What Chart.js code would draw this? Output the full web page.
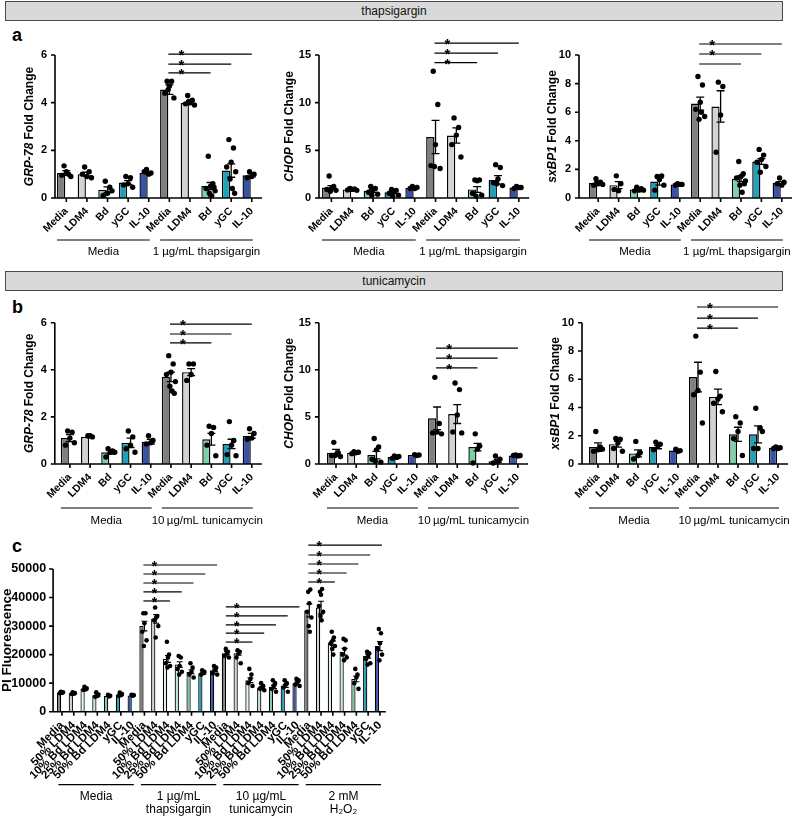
<!DOCTYPE html>
<html><head><meta charset="utf-8">
<script src="https://cdn.jsdelivr.net/npm/chart.js@4.4.1/dist/chart.umd.min.js"></script>
<style>
html,body{margin:0;padding:0;background:#fff}
body{width:800px;height:817px;position:relative;overflow:hidden;font-family:"Liberation Sans",Arial,sans-serif}
.hdr{position:absolute;left:5px;width:776px;height:18px;background:#d9d9d9;border:1px solid #4a4a4a;text-align:center;font-size:12px;line-height:18px;color:#111}
.lt{position:absolute;left:12px;font-weight:bold;font-size:18px;line-height:18px;color:#000}
canvas{position:absolute}
</style></head><body>
<div class="hdr" style="top:1px">thapsigargin</div>
<div class="hdr" style="top:271px">tunicamycin</div>
<div class="lt" style="top:26px">a</div>
<div class="lt" style="top:298px">b</div>
<div class="lt" style="top:537px">c</div>
<script>
// ---------------- DATA ----------------
const abLabels = ["Media","LDM4","Bd","yGC","IL-10","Media","LDM4","Bd","yGC","IL-10"];

// a: thapsigargin
const grp78ThapsMean = [1.05,1.0,0.35,0.65,1.05,4.55,4.0,0.5,1.15,0.95];
const grp78ThapsSem  = [0.1,0.08,0.12,0.08,0.05,0.2,0.08,0.15,0.28,0.06];
const grp78ThapsPts  = [[1.35,1.0,1.1,0.95,0.9],[1.3,1.1,0.9,1.0,0.85],[0.7,0.45,0.2,0.1,0.3],[0.9,0.85,0.6,0.55,0.45],[1.2,1.05,1.0,1.1],
  [4.9,4.9,4.7,4.4,4.2,4.55],[4.3,4.1,4.0,3.95,3.9,4.05],[1.75,0.6,0.5,0.4,0.3,0.2,0.1,0.45],[2.45,2.1,1.5,1.3,1.1,0.8,0.4,0.2],[1.1,1.0,0.9,0.85]];

const chopThapsMean = [1.1,0.9,0.75,0.6,1.05,6.4,6.55,0.9,1.9,1.1];
const chopThapsSem  = [0.2,0.05,0.15,0.15,0.04,1.75,0.8,0.3,0.45,0.05];
const chopThapsPts  = [[2.3,1.2,1.0,0.9,0.8,0.7],[1.0,0.95,0.9,0.85,0.8],[1.2,1.0,0.9,0.6,0.4,0.3],[0.9,0.8,0.7,0.5,0.3,0.2],[1.2,1.1,1.0,1.0],
  [13.3,9.8,5.6,3.4,3.1,3.3],[8.4,7.4,6.6,5.6,4.3],[1.9,1.9,1.8,0.5,0.3,0.2],[3.5,3.2,2.0,1.6,1.3,1.5],[1.2,1.1,1.1,1.0]];

const sxbp1ThapsMean = [1.05,0.9,0.6,1.15,0.95,6.6,6.4,1.35,2.55,1.05];
const sxbp1ThapsSem  = [0.08,0.25,0.05,0.25,0.03,0.45,1.1,0.2,0.2,0.1];
const sxbp1ThapsPts  = [[1.35,1.1,1.0,0.9,0.95,1.05],[1.55,1.0,0.5,0.6],[0.75,0.65,0.55,0.5,0.55],[1.5,1.55,1.3,0.55,0.9],[1.0,0.95,0.95,0.9],
  [8.5,7.9,6.7,6.2,5.7,5.5,6.0],[8.1,7.8,5.8,3.2],[2.55,1.7,1.5,1.4,1.2,0.9,0.4,1.0],[3.4,3.0,2.7,2.5,2.2,1.8],[1.4,1.1,0.9,1.0]];

// b: tunicamycin
const grp78TunMean = [1.1,1.15,0.5,0.9,0.95,3.7,3.9,1.05,0.85,1.2];
const grp78TunSem  = [0.15,0.03,0.08,0.2,0.1,0.2,0.15,0.25,0.2,0.1];
const grp78TunPts  = [[1.4,1.35,1.1,0.8,0.9],[1.2,1.15,1.2],[0.65,0.55,0.5,0.3,0.5],[1.4,1.15,0.8,0.65,0.5],[1.2,1.0,0.9,0.85],
  [4.6,4.25,3.9,3.8,3.5,3.3,3.1,3.0],[4.25,4.25,3.8,3.55],[1.6,1.55,1.3,0.8,0.35],[1.8,1.0,0.8,0.4,0.35],[1.5,1.3,1.1,1.05]];

const chopTunMean = [1.2,1.2,0.95,0.75,0.95,4.85,5.3,1.8,0.3,0.9];
const chopTunSem  = [0.35,0.05,0.4,0.05,0.03,1.2,1.0,0.4,0.15,0.03];
const chopTunPts  = [[2.3,1.2,1.0,0.9,0.8,0.9],[1.3,1.25,1.2,1.1],[2.7,1.8,1.5,0.5,0.2,0.3],[0.85,0.8,0.7,0.6],[1.0,0.95,0.9],
  [9.2,4.3,3.4,3.3,3.2],[8.6,7.9,5.2,3.4,3.3],[3.2,1.9,1.6,0.1],[0.85,0.5,0.3,0.1],[0.95,0.9,0.85,0.9]];

const xsbp1TunMean = [1.2,1.4,0.75,1.2,0.95,6.15,4.75,2.1,2.1,1.15];
const xsbp1TunSem  = [0.3,0.2,0.25,0.12,0.03,1.05,0.55,0.5,0.6,0.05];
const xsbp1TunPts  = [[2.3,1.2,1.0,0.9,1.05],[1.8,1.75,1.5,1.1,0.9],[1.6,0.8,0.6,0.35],[1.55,1.4,1.3,1.0],[1.05,0.95,0.9],
  [9.05,6.5,5.2,4.9,2.9],[6.55,4.8,4.6,4.3,3.7],[3.35,2.9,2.3,1.8,0.6],[3.95,2.55,1.1,1.1,2.3],[1.2,1.15,1.1,1.1]];

// c: PI fluorescence
const cLabels = ["Media","50% LDM4","10% Bd LDM4","25% Bd LDM4","50% Bd LDM4","yGC","IL-10",
  "Media","50% LDM4","10% Bd LDM4","25% Bd LDM4","50% Bd LDM4","yGC","IL-10",
  "Media","50% LDM4","10% Bd LDM4","25% Bd LDM4","50% Bd LDM4","yGC","IL-10",
  "Media","50% LDM4","10% Bd LDM4","25% Bd LDM4","50% Bd LDM4","yGC","IL-10"];
const piMean = [6700,6500,8000,5800,5600,6000,5700, 30000,32500,18500,16500,14000,13500,14500,
  20500,20500,11000,8500,8700,9000,10000, 35500,36500,24000,21000,11500,19500,23000];
const piSem = [200,200,400,500,300,400,200, 1700,1500,1200,1000,700,300,400,
  600,700,800,400,600,500,400, 2300,2200,800,1200,1000,700,1600];
const piPts = [
  [7000,6800,6600,6500],[6800,6500,6300,6200],[8700,8200,7800,7600],[6800,6000,5500,5200],[5900,5600,5300],[6700,6200,5800,5600],[5900,5800,5600],
  [34500,34500,31000,28000,25000,23000],[36500,33500,33000,32000,30000,26000],[24500,20000,19000,17000,16000,15500],[19500,19000,16000,15000,14000,13000],[17000,15500,14000,13000,12000],[14500,14000,13500,13000],[16000,15500,14500,13500,13000],
  [22000,21000,20500,19500,19000],[21500,21000,20500,19000,17000],[15000,13000,11500,10000,9000],[10000,9000,8500,8000,7500],[11000,10000,9000,8000,7000],[11000,10000,9500,8500,7000],[11500,11000,10500,9500,9000],
  [42000,42800,38000,35000,33000,30000,28000],[42000,43000,41000,37000,35000,33500,32000],[28000,26000,25000,24000,23000,22000,20000],[25500,25000,22000,20000,19000,18000],[15000,13000,12000,10000,8000],[21000,20500,19500,18500,17000,16500],[29000,27500,24000,22000,20000,18000]];

// significance brackets: [fromIndex, toIndex, yValue, hasStar]
const grp78ThapsSig = [[5,7,5.25,1],[5,8,5.62,1],[5,9,6.04,1]];
const chopThapsSig  = [[5,7,14.2,1],[5,8,15.2,1],[5,9,16.25,1]];
const sxbp1ThapsSig = [[5,7,9.37,0],[5,8,10.07,1],[5,9,10.77,1]];
const grp78TunSig   = [[5,7,5.14,1],[5,8,5.52,1],[5,9,5.94,1]];
const chopTunSig    = [[5,7,10.2,1],[5,8,11.25,1],[5,9,12.3,1]];
const xsbp1TunSig   = [[5,7,9.62,1],[5,8,10.33,1],[5,9,11.11,1]];
const piSig = [[7,9,38800,1],[7,10,41950,1],[7,11,45100,1],[7,12,48250,1],[7,13,51400,1],
  [14,16,24400,1],[14,17,27550,1],[14,18,30400,1],[14,19,33550,1],[14,20,36700,1],
  [21,23,45450,1],[21,24,48600,1],[21,25,51750,1],[21,26,54900,1],[21,27,58400,1]];

// group labels: [fromIndex, toIndex, text lines]
const thapsGroups = [[0,4,["Media"]],[5,9,["1 \u00b5g/mL thapsigargin"]]];
const tunGroups   = [[0,4,["Media"]],[5,9,["10\u2009\u00b5g/mL tunicamycin"]]];
const piGroups    = [[0,6,["Media"]],[7,13,["1 \u00b5g/mL","thapsigargin"]],[14,20,["10 \u00b5g/mL","tunicamycin"]],[21,27,["2 mM","H\u2082O\u2082"]]];

// ---------------- STYLE ----------------
const abColors = ["#7f7f7f","#d3d3d3","#7fd0a9","#1fa1b8","#3653a9","#7f7f7f","#d3d3d3","#7fd0a9","#1fa1b8","#3653a9"];
const cColorSet = ["#7f7f7f","#d3d3d3","#e1f4ed","#c5e9db","#7ccba3","#1e9cb6","#3452a8"];
const cColors = [].concat(cColorSet,cColorSet,cColorSet,cColorSet);
const FAM = '"Liberation Sans", Arial, sans-serif';
Chart.defaults.font.family = FAM;
Chart.defaults.color = '#000';
Chart.defaults.animation = false;

const jitPattern = [-0.5,0.5,0,-1,1,-0.25,0.25,0.75,-0.75];

function makeChart(o){
  const [x0,y0,x1,y1] = o.box;
  const W = x1-x0, H = y1-y0;
  const cv = document.createElement('canvas');
  cv.width = W; cv.height = H;
  cv.style.left = x0+'px'; cv.style.top = y0+'px';
  cv.style.width = W+'px'; cv.style.height = H+'px';
  document.body.appendChild(cv);
  const n = o.labels.length;
  const scatter = [];
  o.pts.forEach((arr,i)=>arr.forEach((v,k)=>scatter.push({x:i + jitPattern[k%jitPattern.length]*o.spread, y:v})));
  const decor = {
    id:'decor'+o.id,
    afterDatasetDraw(chart,args){
      if(args.index!==0) return;
      const ctx=chart.ctx, xs=chart.scales.x, ys=chart.scales.y;
      ctx.save(); ctx.strokeStyle='#000'; ctx.lineWidth=o.ew;
      o.mean.forEach((m,i)=>{
        const x=xs.getPixelForValue(i), yt=ys.getPixelForValue(m+o.sem[i]), yb=ys.getPixelForValue(Math.max(0,m-o.sem[i]));
        ctx.beginPath();
        ctx.moveTo(x,yb); ctx.lineTo(x,yt);
        ctx.moveTo(x-o.cap,yt); ctx.lineTo(x+o.cap,yt);
        ctx.moveTo(x-o.cap,yb); ctx.lineTo(x+o.cap,yb);
        ctx.stroke();
      });
      ctx.restore();
    },
    afterDraw(chart){
      const ctx=chart.ctx, xs=chart.scales.x, ys=chart.scales.y, A=chart.chartArea;
      const ax=A.left-o.gap;
      ctx.save();
      ctx.strokeStyle='#000'; ctx.lineWidth=o.alw; ctx.lineCap='butt';
      ctx.beginPath();
      ctx.moveTo(ax, ys.getPixelForValue(o.yMax)); ctx.lineTo(ax, A.bottom); ctx.lineTo(A.right, A.bottom);
      ys.ticks.forEach(t=>{const y=ys.getPixelForValue(t.value); ctx.moveTo(ax-o.tl,y); ctx.lineTo(ax,y);});
      for(let i=0;i<n;i++){const x=xs.getPixelForValue(i); ctx.moveTo(x,A.bottom); ctx.lineTo(x,A.bottom+o.tl);}
      ctx.stroke();
      // y title
      ctx.save();
      ctx.translate(ax+o.titleDx,(A.top+A.bottom)/2); ctx.rotate(-Math.PI/2);
      ctx.fillStyle='#000'; ctx.textBaseline='middle'; ctx.textAlign='left';
      let tot=0; const ws=[];
      o.title.forEach(p=>{ctx.font=(p[1]?'italic ':'')+'bold '+o.titleSize+'px '+FAM; const w=ctx.measureText(p[0]).width; ws.push(w); tot+=w;});
      let cx=-tot/2;
      o.title.forEach((p,k)=>{ctx.font=(p[1]?'italic ':'')+'bold '+o.titleSize+'px '+FAM; ctx.fillText(p[0],cx,0); cx+=ws[k];});
      ctx.restore();
      // brackets
      ctx.lineWidth=o.blw; ctx.fillStyle='#000';
      ctx.font='bold '+o.starSize+'px '+FAM; ctx.textAlign='center'; ctx.textBaseline='alphabetic';
      o.sig.forEach(s=>{
        const xa=xs.getPixelForValue(s[0])-1, xb=xs.getPixelForValue(s[1])+o.bext, y=ys.getPixelForValue(s[2]);
        ctx.beginPath(); ctx.moveTo(xa,y); ctx.lineTo(xb,y); ctx.stroke();
        if(s[3]) ctx.fillText('*', xa+o.starDx, y+o.starDy);
      });
      // groups
      const sp=xs.getPixelForValue(1)-xs.getPixelForValue(0);
      ctx.lineWidth=o.glw; ctx.font=o.groupSize+'px '+FAM; ctx.textAlign='center';
      o.groups.forEach(g=>{
        const xa=xs.getPixelForValue(g[0])-o.gl*sp, xb=xs.getPixelForValue(g[1])+o.gr*sp, y=A.bottom+o.gy;
        ctx.beginPath(); ctx.moveTo(xa,y); ctx.lineTo(xb,y); ctx.stroke();
        g[2].forEach((t,k)=>ctx.fillText(t,(xa+xb)/2,y+o.gt+k*o.glh));
      });
      ctx.restore();
    }
  };
  new Chart(cv,{
    type:'bar',
    data:{labels:o.labels,datasets:[
      {data:o.mean,backgroundColor:o.colors,borderColor:'#000',borderWidth:o.bw,barPercentage:o.barPct,categoryPercentage:1,order:2},
      {type:'scatter',data:scatter,xAxisID:'xj',yAxisID:'y',backgroundColor:'#000',borderWidth:0,pointRadius:o.pr,order:1,clip:false}
    ]},
    options:{
      responsive:false,maintainAspectRatio:false,animation:false,
      layout:{padding:{left:0,top:o.plot[2]-y0,right:x1-o.plot[1],bottom:0}},
      plugins:{legend:{display:false},tooltip:{enabled:false}},
      scales:{
        x:{type:'category',offset:true,position:'bottom',grid:{display:false,drawTicks:false},border:{display:false},
           ticks:{autoSkip:false,minRotation:45,maxRotation:45,padding:o.xpad,font:{size:o.xSize,weight:'bold'},color:'#000'},
           afterFit(s){s.height=y1-o.plot[3];}},
        xj:{type:'linear',position:'top',offset:false,bounds:'data',min:-0.5,max:n-0.5,grid:{display:false,drawTicks:false,offset:false},border:{display:false},
           ticks:{display:false},afterFit(s){s.height=0;}},
        y:{type:'linear',min:0,max:o.yMax,grid:{display:false,drawTicks:false},border:{display:false},
           ticks:{stepSize:o.yStep,padding:o.gap+o.ypad,font:{size:o.ySize,weight:'bold'},color:'#000',callback:v=>String(v)},
           afterFit(s){s.width=o.plot[0]-x0;}}
      }
    },
    plugins:[decor]
  });
}

const abCommon = {labels:abLabels,colors:abColors,spread:0.22,pr:2.7,bw:1.4,barPct:0.8,ew:1.3,cap:4,alw:1.6,tl:4,
  titleSize:12,blw:1.2,starSize:15,starDx:13,starDy:6,bext:0,glw:1.2,groupSize:11.5,gl:0.45,gr:0.05,glh:13,
  xSize:10.5,xpad:7,ySize:11,ypad:8};

// a
makeChart(Object.assign({},abCommon,{id:'a1',box:[0,28,268,265],plot:[56,267,55,198],gap:1,mean:grp78ThapsMean,sem:grp78ThapsSem,pts:grp78ThapsPts,
  yMax:6,yStep:2,title:[["GRP-78",1],[" Fold Change",0]],titleDx:-25,sig:grp78ThapsSig,groups:thapsGroups,gy:42,gt:15}));
makeChart(Object.assign({},abCommon,{id:'a2',box:[262,28,535,265],plot:[321,530,55,198],gap:2,mean:chopThapsMean,sem:chopThapsSem,pts:chopThapsPts,
  yMax:15,yStep:5,title:[["CHOP",1],[" Fold Change",0]],titleDx:-29,sig:chopThapsSig,groups:thapsGroups,gy:42,gt:15}));
makeChart(Object.assign({},abCommon,{id:'a3',box:[530,28,800,265],plot:[588,792,55,198],gap:9,mean:sxbp1ThapsMean,sem:sxbp1ThapsSem,pts:sxbp1ThapsPts,
  yMax:10,yStep:2,title:[["sxBP1",1],[" Fold Change",0]],titleDx:-26,sig:sxbp1ThapsSig,groups:thapsGroups,gy:42,gt:15}));
// b
makeChart(Object.assign({},abCommon,{id:'b1',box:[0,296,268,535],plot:[59.8,263.3,322.7,464],gap:5,mean:grp78TunMean,sem:grp78TunSem,pts:grp78TunPts,
  yMax:6,yStep:2,title:[["GRP-78",1],[" Fold Change",0]],titleDx:-25,sig:grp78TunSig,groups:tunGroups,gy:44,gt:16}));
makeChart(Object.assign({},abCommon,{id:'b2',box:[262,296,535,535],plot:[325.9,528,322.7,464],gap:7,mean:chopTunMean,sem:chopTunSem,pts:chopTunPts,
  yMax:15,yStep:5,title:[["CHOP",1],[" Fold Change",0]],titleDx:-29,sig:chopTunSig,groups:tunGroups,gy:44,gt:16}));
makeChart(Object.assign({},abCommon,{id:'b3',box:[530,296,800,535],plot:[588,788,322.7,464],gap:6,mean:xsbp1TunMean,sem:xsbp1TunSem,pts:xsbp1TunPts,
  yMax:10,yStep:2,title:[["xsBP1",1],[" Fold Change",0]],titleDx:-26,sig:xsbp1TunSig,groups:tunGroups,gy:44,gt:16}));
// c
makeChart({id:'c',labels:cLabels,colors:cColors,spread:0.18,pr:2.3,bw:1.2,barPct:0.72,ew:1.2,cap:3,alw:1.6,tl:4,
  titleSize:13.5,blw:1.2,starSize:14,starDx:11,starDy:6,bext:2,glw:1.2,groupSize:12,gl:0.3,gr:0.1,glh:13,
  xSize:11.5,xpad:7,ySize:12.5,ypad:7,
  box:[0,528,400,817],plot:[56.1,385.8,569,711.7],gap:3,mean:piMean,sem:piSem,pts:piPts,
  yMax:50000,yStep:10000,title:[["PI Fluorescence",0]],titleDx:-46,sig:piSig,groups:piGroups,gy:73,gt:15});
</script>
</body></html>
